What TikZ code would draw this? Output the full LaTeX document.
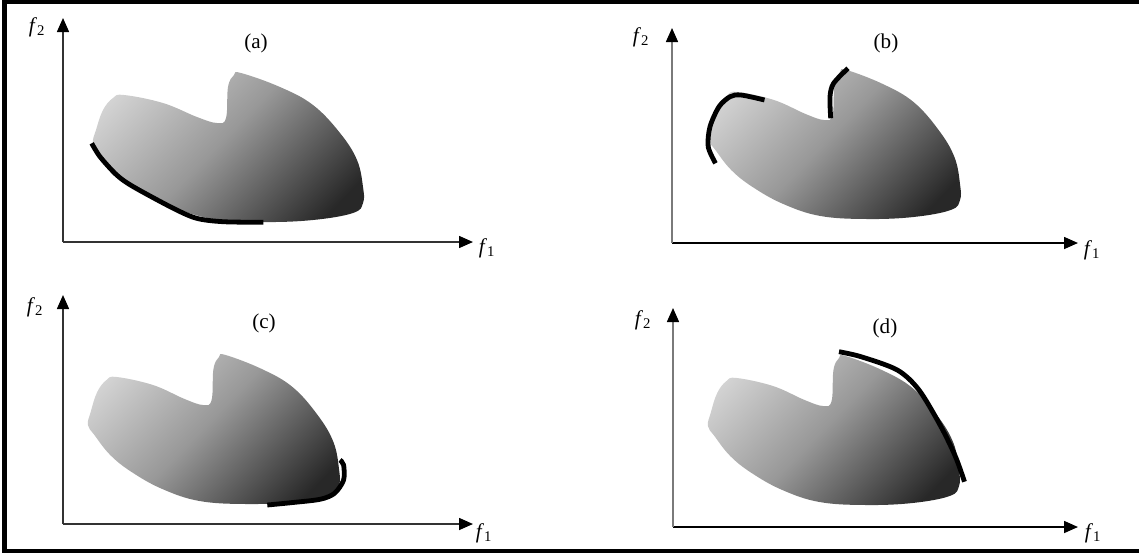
\documentclass[tikz,border=0pt]{standalone}
\usepackage{fontspec}
\setmainfont{Liberation Serif}
\usetikzlibrary{arrows.meta}
\definecolor{regionlight}{HTML}{D4D4D4}
\definecolor{regionmid}{HTML}{989898}
\definecolor{regiondark}{HTML}{282828}
\definecolor{axisdark}{HTML}{333333}
\definecolor{axisgray}{HTML}{7A7A7A}
\pgfdeclareverticalshading{regionshade}{100bp}{color(0bp)=(regiondark); color(22bp)=(regiondark); color(52bp)=(regionmid); color(78bp)=(regionlight); color(100bp)=(regionlight)}

% objective-space region, relative to the origin of a panel (pixel units)
\newcommand{\objspace}{plot[smooth cycle, tension=0.65] coordinates {(30,99) (33,112) (40,132) (50,144) (61,147) (100,139) (134,125) (154,119) (163,124) (165,155) (171,167) (178,169) (217,155) (250,137) (277,109) (294,82) (300,55) (300,39) (290,29) (250,22) (200,20) (150,23) (110,35) (77,52) (54,69) (37,89)}}

\begin{document}
\begin{tikzpicture}[x=0.025cm, y=0.025cm,
  axis/.style={line width=1.1pt, draw=#1, -{Triangle[length=0.35cm, width=0.3cm, color=black]}},
  axis/.default=axisdark,
  axlabel/.style={inner sep=0pt, font=\fontsize{15pt}{17pt}\selectfont},
  panellabel/.style={inner sep=0pt, font=\fontsize{15pt}{17pt}\selectfont},
  region/.style={shading=regionshade, shading angle=46},
  paretofront/.style={line width=0.12cm, black},
  frame/.style={line width=0.1cm, black}
]
\useasboundingbox (0,0) rectangle (1139,-554);

% Outer frame
\draw[frame] (1139,-2) -- (4.5,-2) -- (4.5,-551) -- (1139,-551);

% Panel (a)
\coordinate (a-o) at (63,-242);
\coordinate (a-x) at (473,-242);
\coordinate (a-y) at (63,-18);
\draw[axis] (a-o) -- (a-x);
\draw[axis] (a-o) -- (a-y);
\node[axlabel] (a-f1) at (487,-248) {\textit{f}\textsubscript{1}};
\node[axlabel] (a-f2) at (37,-27) {\textit{f}\textsubscript{2}};
\node[panellabel] (a-tag) at (256,-43) {(a)};
\begin{scope}[shift={(a-o)}]
  \shade[region] \objspace;
  \draw[paretofront] plot[smooth] coordinates {(28.7,98.7) (37,85.3) (53.7,67) (70.3,55.3) (110.3,33.7) (133.7,23.7) (160,20.3) (200.3,19.7)};
\end{scope}

% Panel (b)
\coordinate (b-o) at (672,-243);
\coordinate (b-x) at (1078,-243);
\coordinate (b-y) at (672,-28);
\draw[axis=black] (b-o) -- (b-x);
\draw[axis=axisgray] (b-o) -- (b-y);
\node[axlabel] (b-f1) at (1092,-250) {\textit{f}\textsubscript{1}};
\node[axlabel] (b-f2) at (641,-37) {\textit{f}\textsubscript{2}};
\node[panellabel] (b-tag) at (886,-43) {(b)};
\begin{scope}[shift={(b-o)}]
  \begin{scope}[shift={(9,4)}, xscale=0.93]
    \shade[region] \objspace;
  \end{scope}
  \draw[paretofront] plot[smooth] coordinates {(43.5,79.7) (36.2,96.3) (38,116.3) (47,136.3) (58,146.3) (69,148) (92.5,143)};
  \draw[paretofront] plot[smooth] coordinates {(158.7,124.7) (158,146.3) (161.6,159.7) (176,174.7)};
\end{scope}

% Panel (c)
\coordinate (c-o) at (63,-524);
\coordinate (c-x) at (473,-524);
\coordinate (c-y) at (63,-295);
\draw[axis] (c-o) -- (c-x);
\draw[axis] (c-o) -- (c-y);
\node[axlabel] (c-f1) at (484,-533) {\textit{f}\textsubscript{1}};
\node[axlabel] (c-f2) at (35,-307) {\textit{f}\textsubscript{2}};
\node[panellabel] (c-tag) at (264,-323) {(c)};
\begin{scope}[shift={(c-o)}]
  \begin{scope}[shift={(-3,0)}, xscale=0.93]
    \shade[region] \objspace;
  \end{scope}
  \draw[paretofront] plot[smooth] coordinates {(204.3,19) (228,21.3) (257,24.7) (271.5,30.7) (280.6,44) (280.6,59) (277,64)};
\end{scope}

% Panel (d)
\coordinate (d-o) at (673,-527);
\coordinate (d-x) at (1078,-527);
\coordinate (d-y) at (673,-308);
\draw[axis=black] (d-o) -- (d-x);
\draw[axis=axisgray] (d-o) -- (d-y);
\node[axlabel] (d-f1) at (1093,-533) {\textit{f}\textsubscript{1}};
\node[axlabel] (d-f2) at (643,-320) {\textit{f}\textsubscript{2}};
\node[panellabel] (d-tag) at (885,-328) {(d)};
\begin{scope}[shift={(d-o)}]
  \begin{scope}[shift={(7,2)}, xscale=0.93]
    \shade[region] \objspace;
  \end{scope}
  \draw[paretofront] plot[smooth] coordinates {(166,175.3) (188,170.3) (224.3,157) (246,137) (268,100.3) (282.5,70.3) (291.5,45.3)};
\end{scope}

\end{tikzpicture}
\end{document}
